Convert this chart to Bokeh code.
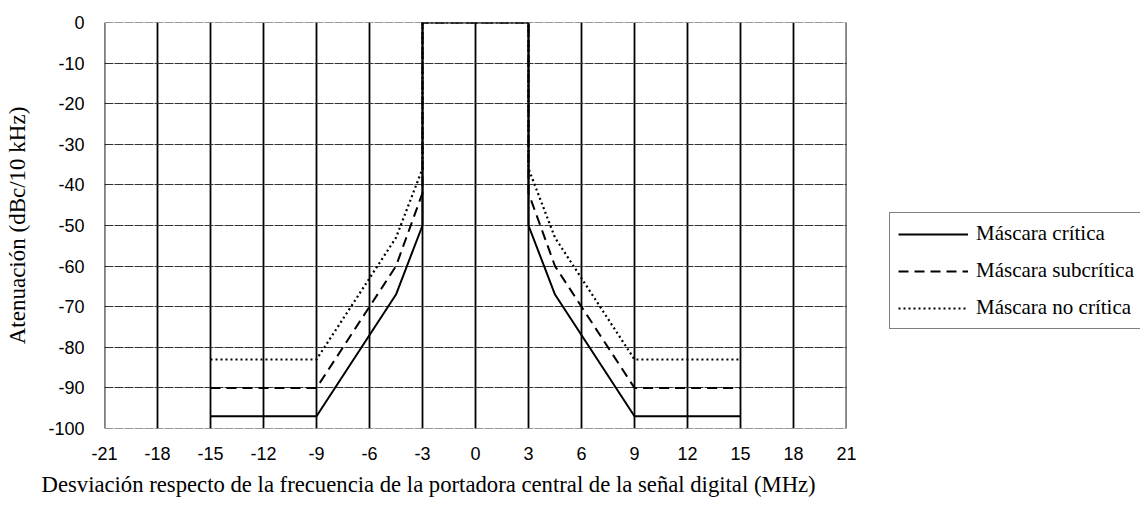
from bokeh.plotting import figure
from bokeh.models import Range1d, FixedTicker, Legend, LegendItem, Span, Title
from bokeh.layouts import row
from bokeh.embed import file_html
from bokeh.resources import INLINE

# Data
freq = [-15, -9, -4.5, -3, -3, 3, 3, 4.5, 9, 15]
critica = [-97, -97, -67, -50, 0, 0, -50, -67, -97, -97]
subcritica = [-90, -90, -60, -42, 0, 0, -42, -60, -90, -90]
no_critica = [-83, -83, -53, -36, 0, 0, -36, -53, -83, -83]
x_ticks = list(range(-21, 22, 3))
y_ticks = list(range(-100, 1, 10))
labels = ["Máscara crítica", "Máscara subcrítica", "Máscara no crítica"]
x_title = "Desviación respecto de la frecuencia de la portadora central de la señal digital (MHz)"
y_title = "Atenuación (dBc/10 kHz)"
series = [critica, subcritica, no_critica]

styles = [dict(line_color="black", line_width=2),
          dict(line_color="black", line_width=2, line_dash="10 6"),
          dict(line_color="black", line_width=2.2, line_dash="2 3")]

p = figure(frame_width=742, frame_height=406, output_backend="svg", toolbar_location=None,
           x_range=Range1d(x_ticks[0], x_ticks[-1]), y_range=Range1d(y_ticks[0], y_ticks[-1]),
           min_border_left=104, min_border_right=10, min_border_top=22, min_border_bottom=70)
p.outline_line_color = None

p.xaxis.ticker = FixedTicker(ticks=x_ticks)
p.yaxis.ticker = FixedTicker(ticks=y_ticks)
p.xaxis.major_label_overrides = {t: str(t) for t in x_ticks}
p.yaxis.major_label_overrides = {t: str(t) for t in y_ticks}
for ax in (p.xaxis[0], p.yaxis[0]):
    ax.axis_line_color = None
    ax.major_tick_line_color = None
    ax.minor_tick_line_color = None
    ax.major_label_text_font = "Liberation Sans"
    ax.major_label_text_font_size = "18px"
    ax.major_label_text_color = "black"
    ax.axis_label_text_font = "Liberation Serif"
    ax.axis_label_text_font_size = "23px"
    ax.axis_label_text_font_style = "normal"
    ax.axis_label_text_color = "black"
p.xaxis.major_label_standoff = 12
p.yaxis.major_label_standoff = 14
p.yaxis.axis_label = y_title
p.yaxis.axis_label_standoff = 15

xt = Title(text=x_title, align="left", offset=-63, standoff=14,
           text_font="Liberation Serif", text_font_size="22.7px",
           text_font_style="normal", text_color="black")
p.add_layout(xt, "below")

p.xgrid.grid_line_color = "black"
p.xgrid.grid_line_width = 1.8
p.ygrid.grid_line_color = "#333333"
p.ygrid.grid_line_width = 1.2
p.ygrid.grid_line_dash = "9 1"

# frame edges (grid is not drawn at range bounds)
for xv in (x_ticks[0], x_ticks[-1]):
    p.add_layout(Span(location=xv, dimension="height", line_color="black", line_width=1.8))
for yv in (y_ticks[0], y_ticks[-1]):
    p.add_layout(Span(location=yv, dimension="width", line_color="#333333",
                      line_width=1.2, line_dash="9 1"))

for ys, st in zip(series, styles):
    p.line(freq, ys, **st)

# legend panel (its own renderers sit outside its visible range, only the legend shows)
p2 = figure(width=284, height=498, output_backend="svg", toolbar_location=None,
            x_range=Range1d(100, 101), y_range=Range1d(100, 101), min_border=0)
p2.axis.visible = False
p2.grid.visible = False
p2.outline_line_color = None
proxies = [p2.line(freq, ys, **st) for ys, st in zip(series, styles)]
legend = Legend(items=[LegendItem(label=lab, renderers=[r]) for lab, r in zip(labels, proxies)],
                location=(33, 94))
legend.border_line_color = "black"
legend.border_line_width = 1
legend.background_fill_alpha = 0
legend.label_text_font = "Liberation Serif"
legend.label_text_font_size = "21px"
legend.label_text_color = "black"
legend.glyph_width = 70
legend.glyph_height = 20
legend.label_height = 20
legend.spacing = 12
legend.padding = 8
legend.label_standoff = 8
legend.margin = 0
p2.add_layout(legend, "center")

layout = row(p, p2)
open("out.html", "w").write(file_html(layout, INLINE))
